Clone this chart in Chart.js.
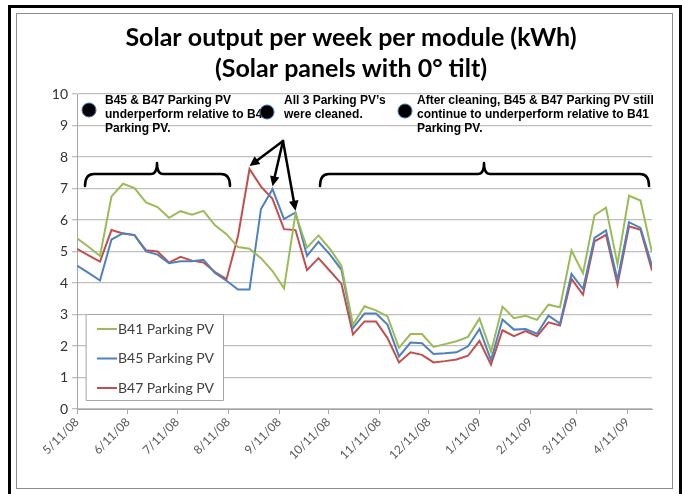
<!DOCTYPE html>
<html><head><meta charset="utf-8">
<script src="https://cdn.jsdelivr.net/npm/chart.js@4.4.0/dist/chart.umd.min.js"></script>
<style>html,body{margin:0;padding:0;background:#fff;}#wrap{position:relative;width:682px;height:494px;}</style>
</head><body><div id="wrap"><canvas id="c" width="682" height="494"></canvas></div>
<script>
const weekDates = ["5/11/08","5/18/08","5/25/08","6/1/08","6/8/08","6/15/08","6/22/08","6/29/08","7/6/08","7/13/08","7/20/08","7/27/08","8/3/08","8/10/08","8/17/08","8/24/08","8/31/08","9/7/08","9/14/08","9/21/08","9/28/08","10/5/08","10/12/08","10/19/08","10/26/08","11/2/08","11/9/08","11/16/08","11/23/08","11/30/08","12/7/08","12/14/08","12/21/08","12/28/08","1/4/09","1/11/09","1/18/09","1/25/09","2/1/09","2/8/09","2/15/09","2/22/09","3/1/09","3/8/09","3/15/09","3/22/09","3/29/09","4/5/09","4/12/09","4/19/09","4/26/09"];
const b41 = [5.42,5.15,4.86,6.75,7.15,7.01,6.56,6.41,6.07,6.28,6.17,6.29,5.83,5.55,5.14,5.09,4.79,4.38,3.83,6.20,5.12,5.51,5.08,4.54,2.67,3.26,3.13,2.94,1.94,2.38,2.38,1.97,2.06,2.15,2.29,2.87,1.82,3.25,2.88,2.96,2.83,3.31,3.23,5.03,4.31,6.15,6.39,4.60,6.77,6.62,4.97];
const b45 = [4.55,4.32,4.08,5.38,5.58,5.52,5.00,4.90,4.63,4.69,4.69,4.74,4.32,4.07,3.79,3.79,6.35,6.98,6.03,6.24,4.86,5.31,4.90,4.42,2.57,3.03,3.03,2.68,1.67,2.11,2.09,1.75,1.77,1.80,1.99,2.54,1.55,2.84,2.52,2.54,2.39,2.96,2.71,4.29,3.81,5.43,5.67,4.10,5.93,5.75,4.55];
const b47 = [5.08,4.88,4.68,5.68,5.57,5.52,5.04,5.00,4.65,4.83,4.71,4.65,4.35,4.12,5.48,7.62,7.06,6.67,5.71,5.68,4.41,4.79,4.38,3.97,2.37,2.78,2.78,2.25,1.48,1.80,1.72,1.48,1.52,1.57,1.69,2.16,1.41,2.50,2.31,2.47,2.31,2.75,2.65,4.13,3.63,5.32,5.53,3.95,5.80,5.69,4.40];
const xTickLabels = ["5/11/08","6/11/08","7/11/08","8/11/08","9/11/08","10/11/08","11/11/08","12/11/08","1/11/09","2/11/09","3/11/09","4/11/09"];
const seriesNames = ["B41 Parking PV","B45 Parking PV","B47 Parking PV"];
const seriesColors = ["#9bbb59","#4f81bd","#c0504d"];
const titleLines = ["Solar output per week per module (kWh)","(Solar panels with 0\u00b0 tilt)"];
const note1 = ["B45 & B47 Parking PV","underperform relative to B41","Parking PV."];
const note2 = ["All 3 Parking PV\u2019s","were cleaned."];
const note3 = ["After cleaning, B45 & B47 Parking PV still","continue to underperform relative to B41","Parking PV."];
// weeks the arrows point to: B47 peak, B45 peak, B41 peak after cleaning
const cleanedPeaks = [{series:2, week:"8/24/08"},{series:1, week:"9/7/08"},{series:0, week:"9/21/08"}];

function dayOf(s){const p=s.split('/').map(Number);return (Date.UTC(2000+p[2],p[0]-1,p[1])-Date.UTC(2008,4,11))/86400000;}
const seriesVals=[b41,b45,b47];

const decor = {
  id:'decor',
  beforeDraw(chart){
    const c=chart.ctx;
    c.save();
    c.fillStyle='#fff';c.fillRect(0,0,682,494);
    c.fillStyle='#000';
    c.fillRect(8,5,674,3);
    c.fillRect(8,5,3,489);
    c.fillRect(679,5,3,489);
    c.strokeStyle='#8c8c8c';c.lineWidth=1;
    c.strokeRect(16.5,13.5,656,475);
    c.restore();
  },
  afterDraw(chart){
    const c=chart.ctx, xs=chart.scales.x, ys=chart.scales.y;
    c.save();
    // title
    c.fillStyle='#000';c.textAlign='center';c.textBaseline='middle';
    c.font='bold 25px Lato';
    c.fillText(titleLines[0],351,38);
    c.fillText(titleLines[1],351,69);
    // notes
    c.textAlign='left';c.font='bold 12px "Liberation Sans"';
    const drawNote=(lines,x)=>lines.forEach((t,i)=>c.fillText(t,x,101+i*13.7));
    drawNote(note1,105);drawNote(note2,284);drawNote(note3,417);
    const bullet=(x,y)=>{c.beginPath();c.arc(x,y,7,0,Math.PI*2);c.fillStyle='#000';c.fill();c.strokeStyle='#3d6eb5';c.lineWidth=1;c.stroke();};
    bullet(89,110);bullet(267,112);bullet(405,111);
    // braces
    c.strokeStyle='#000';c.lineWidth=2.5;c.lineCap='round';c.lineJoin='round';
    const brace=(x1,x2,xm,yl,ye,yt)=>{c.beginPath();c.moveTo(x1,ye);c.quadraticCurveTo(x1,yl,x1+9,yl);c.lineTo(xm-6,yl);c.quadraticCurveTo(xm,yl,xm,yt);c.quadraticCurveTo(xm,yl,xm+6,yl);c.lineTo(x2-9,yl);c.quadraticCurveTo(x2,yl,x2,ye);c.stroke();};
    brace(85,230,157,174,186,163);
    brace(320,649,484,174,186,163);
    // arrows
    const ox=283, oy=141;
    cleanedPeaks.forEach(p=>{
      const i=weekDates.indexOf(p.week);
      const tx=xs.getPixelForValue(dayOf(p.week)), ty=ys.getPixelForValue(seriesVals[p.series][i])-3;
      const ang=Math.atan2(ty-oy,tx-ox), L=11, w=0.45;
      c.beginPath();c.moveTo(ox,oy);c.lineTo(tx-Math.cos(ang)*6,ty-Math.sin(ang)*6);c.lineWidth=2.5;c.stroke();
      c.beginPath();c.moveTo(tx,ty);
      c.lineTo(tx-L*Math.cos(ang-w),ty-L*Math.sin(ang-w));
      c.lineTo(tx-L*Math.cos(ang+w),ty-L*Math.sin(ang+w));
      c.closePath();c.fillStyle='#000';c.fill();
    });
    // legend
    c.fillStyle='#fff';c.fillRect(86,314,137,86);
    c.strokeStyle='#a6a6a6';c.lineWidth=1;c.strokeRect(86.5,314.5,137,86);
    c.font='14px Lato';c.textBaseline='middle';
    seriesNames.forEach((n,i)=>{
      const y=329+i*29.5;
      c.strokeStyle=seriesColors[i];c.lineWidth=2;c.lineCap='butt';
      c.beginPath();c.moveTo(97,y);c.lineTo(117,y);c.stroke();
      c.fillStyle='#404040';c.fillText(n,118,y);
    });
    c.restore();
  }
};

new Chart(document.getElementById('c'),{
  type:'line',
  data:{datasets:seriesNames.map((n,k)=>({label:n,data:weekDates.map((d,i)=>({x:dayOf(d),y:seriesVals[k][i]})),borderColor:seriesColors[k],borderWidth:2,pointRadius:0,tension:0,fill:false}))},
  options:{
    responsive:false,animation:false,
    layout:{padding:{top:94,right:30,left:0,bottom:0}},
    plugins:{legend:{display:false},tooltip:{enabled:false},title:{display:false}},
    scales:{
      x:{type:'linear',min:0,max:350,
        afterBuildTicks:s=>{s.ticks=xTickLabels.map(l=>({value:dayOf(l)}));},
        afterFit:s=>{s.height=85;},
        ticks:{autoSkip:false,minRotation:45,maxRotation:45,padding:1,color:'#595959',font:{family:'Lato',size:12},callback:(v,i)=>xTickLabels[i]},
        grid:{drawOnChartArea:false,drawTicks:true,tickLength:5,color:'#a6a6a6'},
        border:{color:'#a6a6a6',width:1}},
      y:{min:0,max:10,
        afterFit:s=>{s.width=77;},
        ticks:{stepSize:1,color:'#333',font:{family:'Lato',size:14},padding:4},
        grid:{color:'#bfbfbf',lineWidth:1.3,tickLength:5},
        border:{color:'#a6a6a6',width:1}}
    }
  },
  plugins:[decor]
});
</script></body></html>
